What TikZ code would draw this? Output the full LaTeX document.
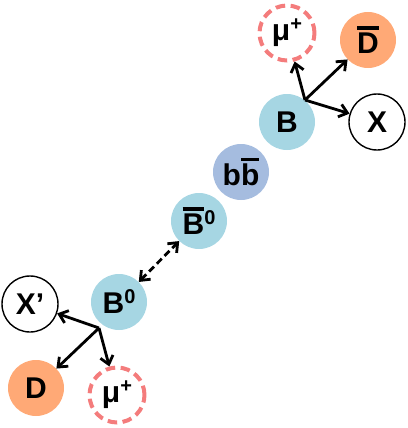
\documentclass[tikz,border=0pt]{standalone}
\usepackage{fontspec}
\setmainfont{Liberation Sans}
\usetikzlibrary{arrows.meta}
\definecolor{bblue}{HTML}{A6D6E3}
\definecolor{bbbar}{HTML}{A5BCDF}
\definecolor{dorange}{HTML}{FFA976}
\definecolor{mured}{HTML}{F47C7C}
\newcommand\ovl[1]{\vbox{\hrule height 3.2pt\kern 3.2pt\hbox{#1}}}
\newcommand\sps[1]{\raisebox{10pt}{\fontsize{20}{20}\selectfont #1}}
\tikzset{
  mytip/.tip={Straight Barb[length=8pt,width=13pt,line width=2.8pt]},
  particle/.style={circle, minimum size=56pt, inner sep=0pt, font=\fontsize{30}{34}\selectfont\bfseries},
  bnode/.style={particle, fill=bblue},
  bbnode/.style={particle, fill=bbbar},
  dnode/.style={particle, fill=dorange},
  xnode/.style={particle, draw=black, line width=1.4pt, fill=white},
  munode/.style={particle, draw=mured, line width=4pt, dash pattern=on 9.5pt off 5.5pt, minimum size=55pt, fill=white},
  decay/.style={-mytip, line width=2.8pt, black},
  osc/.style={mytip-mytip, line width=2.8pt, dash pattern=on 7pt off 4pt, black}
}
\begin{document}
\begin{tikzpicture}[x=1pt,y=-1pt]
\useasboundingbox (0,0) rectangle (407,428);
% top decay
\node[bnode] (B) at (287,122) {B};
\node[munode] (mut) at (287,33) {μ\sps{+}};
\node[dnode] (Dbar) at (368,40) {\ovl{D}};
\node[xnode] (X) at (377,122) {X};
\coordinate (ot) at (305,100);
\draw[decay] (ot) -- (mut);
\draw[decay] (ot) -- (Dbar);
\draw[decay] (ot) -- (X);
% middle
\node[bbnode] (bb) at (241,172) {b\ovl{b}};
\node[bnode] (B0bar) at (199,221) {\ovl{B}\sps{0}};
\node[bnode] (B0) at (119,302) {B\sps{0}};
\draw[osc] (B0) -- (B0bar);
% bottom decay
\node[xnode] (Xp) at (30,304) {X’};
\node[dnode] (D) at (36,388) {D};
\node[munode] (mub) at (117,395) {μ\sps{+}};
\coordinate (ob) at (99,328);
\draw[decay] (ob) -- (Xp);
\draw[decay] (ob) -- (D);
\draw[decay] (ob) -- (mub);
\end{tikzpicture}
\end{document}
